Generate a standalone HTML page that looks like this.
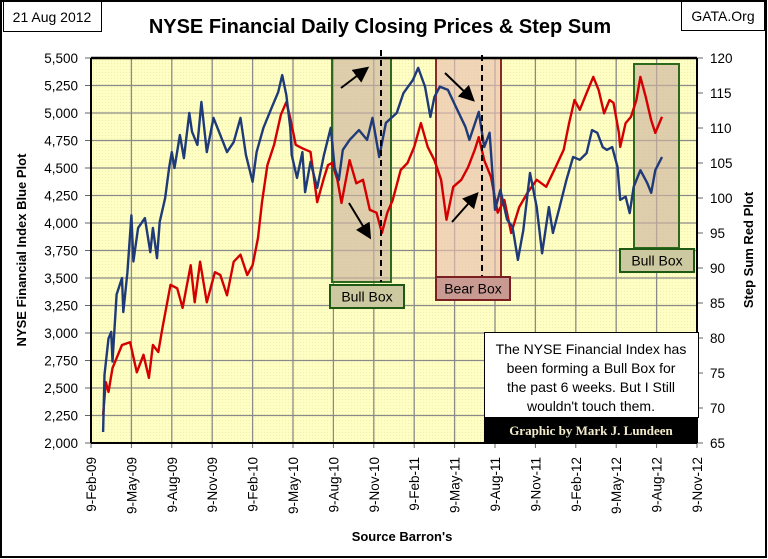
<!DOCTYPE html>
<html><head><meta charset="utf-8"><style>
body{margin:0;background:#fff;}
svg{display:block;font-family:"Liberation Sans",sans-serif;}
</style></head><body>
<svg id="c" width="768" height="559" viewBox="0 0 768 559">
<defs>
<pattern id="dots" width="3" height="3" patternUnits="userSpaceOnUse"><rect width="3" height="3" fill="#ffffc4"/><rect width="1" height="1" fill="#efefb0"/></pattern>
<marker id="ah" markerWidth="8" markerHeight="8" refX="6" refY="4" orient="auto"><path d="M0,0 L8,4 L0,8 z" fill="#000"/></marker>
</defs>
<rect x="1" y="1" width="765" height="556" fill="#fff" stroke="#000" stroke-width="2"/>
<g><rect x="3.5" y="1.5" width="98" height="30" fill="#fff" stroke="#000"/><text x="52" y="22" font-size="14" text-anchor="middle" font-family="Liberation Sans">21 Aug 2012</text></g>
<g><rect x="681.5" y="1.5" width="83" height="29" fill="#fff" stroke="#000"/><text x="723" y="21" font-size="14" text-anchor="middle">GATA.Org</text></g>
<text x="380" y="33" font-size="20" font-weight="bold" text-anchor="middle">NYSE Financial Daily Closing Prices &amp; Step Sum</text>
<rect x="91" y="58" width="606" height="385" fill="url(#dots)"/>
<g id="grid"></g>
<g id="boxes"></g>
<g id="series"></g>
<g id="axes"></g>
<g id="annot"></g>
<text transform="translate(26,250) rotate(-90)" font-size="13" font-weight="bold" text-anchor="middle">NYSE Financial Index Blue Plot</text>
<text transform="translate(753,250) rotate(-90)" font-size="13" font-weight="bold" text-anchor="middle">Step Sum Red Plot</text>
<text x="402" y="541" font-size="13" font-weight="bold" text-anchor="middle">Source Barron's</text>
</svg>
<script>
const xTickLabels=["9-Feb-09","9-May-09","9-Aug-09","9-Nov-09","9-Feb-10","9-May-10","9-Aug-10","9-Nov-10","9-Feb-11","9-May-11","9-Aug-11","9-Nov-11","9-Feb-12","9-May-12","9-Aug-12","9-Nov-12"];
const leftTicks=[2000,2250,2500,2750,3000,3250,3500,3750,4000,4250,4500,4750,5000,5250,5500];
const rightTicks=[65,70,75,80,85,90,95,100,105,110,115,120];
// months since 9-Feb-09
const blueMonths=[0.9,1.0,1.3,1.5,1.6,1.9,2.3,2.4,2.7,3.0,3.15,3.5,4.0,4.4,4.6,4.9,5.1,5.5,5.8,6.0,6.2,6.6,6.9,7.3,7.5,7.9,8.2,8.6,9.1,9.6,10.1,10.6,11.1,11.5,12.0,12.3,12.8,13.4,13.9,14.2,14.5,14.8,14.9,15.3,15.7,15.9,16.3,16.8,17.3,17.8,18.1,18.4,18.7,19.2,19.9,20.5,20.9,21.4,21.9,22.7,23.2,23.9,24.3,24.8,25.2,25.5,25.9,26.5,27.1,27.8,28.1,28.8,29.2,29.6,30.0,30.4,30.9,31.3,31.7,32.1,32.6,33.1,33.5,34.0,34.3,34.8,35.3,35.8,36.3,36.8,37.2,37.6,38.0,38.3,38.7,39.1,39.3,39.7,40.0,40.3,40.8,41.3,41.6,41.9,42.4];
const blueValues=[2100,2620,2950,3010,2740,3350,3500,3190,3550,4070,3650,3955,4045,3735,3955,3680,4010,4225,4500,4645,4500,4800,4590,5000,4830,4710,5100,4645,4955,4800,4645,4735,4955,4620,4375,4645,4865,5045,5190,5345,5165,4865,4620,4410,4645,4280,4555,4320,4620,4865,4500,4390,4665,4755,4845,4755,4955,4600,4910,5000,5180,5300,5410,5240,4965,5145,5240,5210,5055,4875,4755,5010,4690,4820,4120,4300,4030,3965,3665,3935,4455,4145,3725,4145,3910,4145,4390,4600,4575,4635,4845,4820,4690,4665,4690,4510,4210,4240,4090,4330,4480,4365,4275,4480,4600];
const redMonths=[0.9,1.1,1.3,1.6,2.3,2.9,3.4,3.9,4.3,4.6,5.0,5.3,5.9,6.4,6.8,7.4,7.7,8.1,8.6,9.2,9.6,10.1,10.6,11.1,11.6,12.0,12.4,12.7,13.1,13.6,14.1,14.5,14.8,15.2,15.7,16.3,16.8,17.3,17.6,17.9,18.3,18.6,19.2,19.7,20.2,20.7,21.2,21.6,22.0,22.4,23.0,23.5,24.0,24.5,25.0,25.5,26.0,26.4,26.9,27.5,28.0,28.5,28.8,29.2,29.7,30.2,30.7,31.2,31.8,32.4,33.1,33.8,34.5,35.1,35.5,35.9,36.3,36.8,37.3,37.7,38.1,38.5,38.8,39.2,39.3,39.7,40.1,40.5,40.8,41.2,41.6,41.9,42.4];
const redValues=[69,73.7,72.3,75.7,79,79.4,75.1,77.6,74.3,79,78,81.4,87.6,87.1,84.3,90.4,85.1,90.9,85.1,89.4,89,86.1,90.9,91.9,89,90.4,94.3,99.4,104.7,107.6,111.9,113.7,111.4,107.6,107.1,106.6,99.4,102.9,104.7,105,102.6,99.3,105.4,102.1,102.6,98.3,97.9,95,97.9,99.7,104,105,107.3,110.7,107.3,105.4,102.6,96.9,101.6,102.6,104.4,106.9,108.7,105.4,103,97.9,99.7,95,98.7,100.7,102.6,101.6,104.4,106.9,110.7,114,112.6,115,117.3,115.4,112.1,114,113.6,109.3,107.3,110.7,111.6,114,117.3,114.4,111.1,109.3,111.6];

const NS='http://www.w3.org/2000/svg';
const X0=91,X1=697,Y0=58,Y1=443;
const xScale=m=>X0+(X1-X0)*m/45;
const yL=v=>Y1-(v-2000)*(Y1-Y0)/3500;
const yR=v=>Y1-(v-65)*(Y1-Y0)/55;
function mk(tag,attrs,parent){const e=document.createElementNS(NS,tag);for(const k in attrs)e.setAttribute(k,attrs[k]);parent.appendChild(e);return e;}
const grid=document.getElementById('grid'),axes=document.getElementById('axes'),series=document.getElementById('series'),boxes=document.getElementById('boxes'),annot=document.getElementById('annot');
leftTicks.forEach((v,i)=>{const y=yL(v);
 if(i>0&&i<leftTicks.length-1){const g=mk('line',{x1:X0,x2:X1,y1:y,y2:y,stroke:'#8a8a8a','stroke-width':1.3},grid);}
 const t=mk('line',{x1:X0-6,x2:X0,y1:y,y2:y,stroke:'#666'},axes);
 const tx=mk('text',{x:78,y:y+5,'font-size':13.5,'text-anchor':'end'},axes);tx.textContent=v.toLocaleString('en-US');
 
 });
rightTicks.forEach(v=>{const y=yR(v);
 const t=mk('line',{x1:X1,x2:X1+6,y1:y,y2:y,stroke:'#666'},axes);
 const tx=mk('text',{x:710,y:y+5,'font-size':13.5},axes);tx.textContent=v;
 
 });
xTickLabels.forEach((l,i)=>{const x=xScale(i*3);
 if(i>0&&i<xTickLabels.length-1){const g=mk('line',{x1:x,x2:x,y1:Y0,y2:Y1,stroke:'#8a8a8a','stroke-width':1.3},grid);}
 const t=mk('line',{x1:x,x2:x,y1:Y1,y2:Y1+5,stroke:'#666'},axes);
 const tx=mk('text',{transform:`translate(${x+5},457) rotate(-90)`,'font-size':13.5,'text-anchor':'end'},axes);tx.textContent=l;
 
 });
mk('line',{x1:X0,x2:X0,y1:Y0,y2:Y1,stroke:'#000','stroke-width':2},axes);
mk('line',{x1:X1,x2:X1,y1:Y0,y2:Y1,stroke:'#000','stroke-width':2},axes);
mk('line',{x1:X0,x2:X1,y1:Y1,y2:Y1,stroke:'#000','stroke-width':2},axes);
mk('line',{x1:X0,x2:X1,y1:Y0,y2:Y0,stroke:'#000','stroke-width':2.5},axes);

function box(name,x,y,w,h,fill,stroke){const r=mk('rect',{x,y,width:w,height:h,fill,stroke,'stroke-width':2},boxes);}
box('bull-box-1',332,58,59,224,'rgba(205,180,160,0.65)','#2d6a1e');
box('bear-box',436,58,65,220,'rgba(232,190,175,0.65)','#8b2a2a');
box('bull-box-2',634,64,45,184,'rgba(205,180,160,0.65)','#2d6a1e');

function line(name,ms,vs,sc,color){let d='';ms.forEach((m,i)=>{d+=(i?'L':'M')+xScale(m).toFixed(1)+','+sc(vs[i]).toFixed(1);});const p=mk('path',{d,fill:'none',stroke:color,'stroke-width':2.4,'stroke-linejoin':'round'},series);}
line('step-sum-red-line',redMonths,redValues,yR,'#d40000');
line('nyse-financial-blue-line',blueMonths,blueValues,yL,'#1f3a78');

function dash(x,y1,y2){const l=mk('line',{x1:x,x2:x,y1,y2,stroke:'#000','stroke-width':2,'stroke-dasharray':'6,4'},annot);}
dash(381,50,282);dash(482,55,277);
function arrow(x1,y1,x2,y2){const l=mk('line',{x1,y1,x2,y2,stroke:'#000','stroke-width':2,'marker-end':'url(#ah)'},annot);}
arrow(341,88,366,69);arrow(349,203,369,236);arrow(445,73,472,99);arrow(452,222,476,195);
function label(name,x,y,w,h,fill,stroke,txt){const g=mk('g',{},annot);mk('rect',{x,y,width:w,height:h,fill,stroke,'stroke-width':2},g);const t=mk('text',{x:x+w/2,y:y+h/2+5,'font-size':14,'text-anchor':'middle'},g);t.textContent=txt;}
label('bull-box-label-1',330,285,74,23,'#ccc9a0','#1f5a14','Bull Box');
label('bear-box-label',436,277,74,23,'#c99a92','#7a2020','Bear Box');
label('bull-box-label-2',620,249,74,23,'#ccc9a0','#1f5a14','Bull Box');
const nb=mk('g',{},annot);
mk('rect',{x:484.5,y:332.5,width:214,height:85,fill:'#fff',stroke:'#000'},nb);
mk('rect',{x:484,y:417,width:213,height:26,fill:'#000'},nb);
["The NYSE Financial  Index has","been forming a  Bull Box for","the past 6 weeks.  But I Still","wouldn't touch them."].forEach((s,i)=>{const t=mk('text',{x:591,y:354+i*19,'font-size':14,'text-anchor':'middle'},nb);t.textContent=s;});
const cr=mk('text',{x:591,y:435,'font-size':13,'font-weight':'bold','text-anchor':'middle',fill:'#f3eccb','font-family':'Liberation Serif, serif'},nb);cr.textContent='Graphic by Mark J. Lundeen';
</script>
</body></html>
